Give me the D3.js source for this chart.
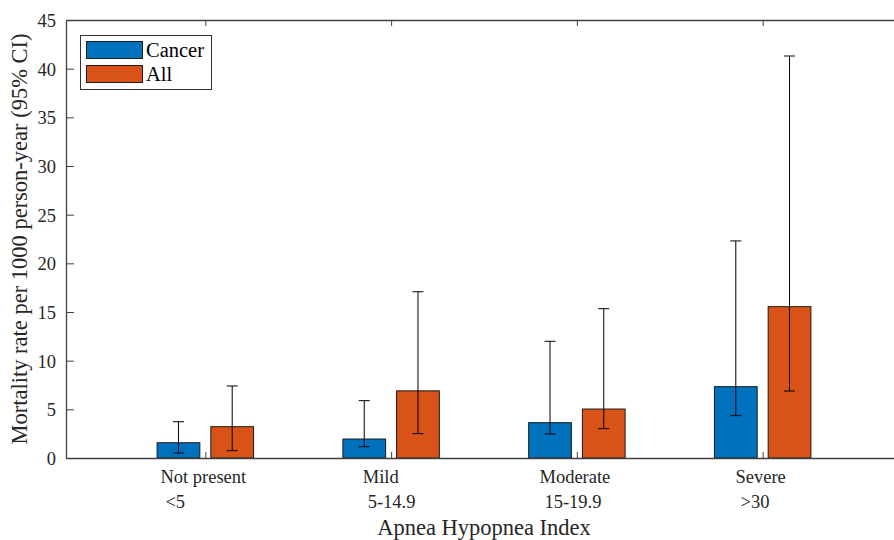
<!DOCTYPE html>
<html>
<head>
<meta charset="utf-8">
<script src="https://cdn.jsdelivr.net/npm/d3@7"></script>
<style>
    body { margin: 0; background: #fff; }
    svg { font-family: "Liberation Serif", "DejaVu Serif", serif; }
    .axis path, .axis line { stroke: #404040; }
    .axis text { fill: #262626; font-size: 18.5px; font-family: "Liberation Serif", serif; }
</style>
</head>
<body>
<script>
//chart data
var categories = ["Not present", "Mild", "Moderate", "Severe"];
var ranges = ["<5", "5-14.9", "15-19.9", ">30"];
var seriesNames = ["Cancer", "All"];
var cancerRate = [1.57, 1.95, 3.63, 7.33];
var cancerLow = [0.51, 1.16, 2.47, 4.35];
var cancerHigh = [3.73, 5.89, 11.99, 22.3];
var allRate = [3.22, 6.9, 5.03, 15.55];
var allLow = [0.75, 2.5, 3.01, 6.88];
var allHigh = [7.4, 17.08, 15.34, 41.3];
var yTicks = [0, 5, 10, 15, 20, 25, 30, 35, 40, 45];
var colors = ["#0072BD", "#D95319"];

(function(){
    var width = 894, height = 540;
    var left = 66, right = 902, top = 20, bottom = 458;

    var svg = d3.select("body").append("svg")
        .attr("width", width)
        .attr("height", height);

    //x in category units like matlab, xlim [0.25, 4.75]
    var x = d3.scaleLinear().domain([0.25, 4.75]).range([left, right]);
    var y = d3.scaleLinear().domain([0, 45]).range([bottom, top]);

    var barW = 0.23, offset = 0.1446;

    //build rows for each bar
    var rows = [];
    categories.forEach(function(c, i){
        rows.push({s: 0, i: i, v: cancerRate[i], lo: cancerLow[i], hi: cancerHigh[i]});
        rows.push({s: 1, i: i, v: allRate[i], lo: allLow[i], hi: allHigh[i]});
    });
    function cx(d){ return x(d.i + 1 + (d.s == 0 ? -offset : offset)); }

    //bars
    svg.selectAll(".bar")
        .data(rows)
        .enter()
        .append("rect")
        .attr("class", "bar")
        .attr("x", function(d){ return x(d.i + 1 + (d.s == 0 ? -offset : offset) - barW / 2); })
        .attr("width", x(barW) - x(0))
        .attr("y", function(d){ return y(d.v); })
        .attr("height", function(d){ return y(0) - y(d.v); })
        .style("fill", function(d){ return colors[d.s]; })
        .style("stroke", "#1a1a1a")
        .style("stroke-width", 1);

    //error bars
    var err = svg.selectAll(".err")
        .data(rows)
        .enter()
        .append("g")
        .attr("class", "err")
        .style("stroke", "#000")
        .style("stroke-width", 1);
    err.append("line")
        .attr("x1", cx).attr("x2", cx)
        .attr("y1", function(d){ return y(d.lo); })
        .attr("y2", function(d){ return y(d.hi); });
    err.append("line")
        .attr("x1", function(d){ return cx(d) - 5.5; })
        .attr("x2", function(d){ return cx(d) + 5.5; })
        .attr("y1", function(d){ return y(d.hi); })
        .attr("y2", function(d){ return y(d.hi); });
    err.append("line")
        .attr("x1", function(d){ return cx(d) - 5.5; })
        .attr("x2", function(d){ return cx(d) + 5.5; })
        .attr("y1", function(d){ return y(d.lo); })
        .attr("y2", function(d){ return y(d.lo); });

    //y axis, ticks inward
    svg.append("g")
        .attr("class", "axis")
        .attr("transform", "translate(" + left + ",0)")
        .call(d3.axisLeft(y).tickValues(yTicks).tickSizeInner(-8).tickSizeOuter(0).tickPadding(10))
        .attr("font-family", "Liberation Serif")
        .attr("font-size", 18.5)
        .selectAll("text").attr("dy", "0.35em");

    //x axis bottom and top
    var xTicks = [1, 2, 3, 4];
    svg.append("g")
        .attr("class", "axis")
        .attr("transform", "translate(0," + bottom + ")")
        .call(d3.axisBottom(x).tickValues(xTicks).tickSizeInner(-6).tickSizeOuter(0).tickFormat(""));
    svg.append("g")
        .attr("class", "axis")
        .attr("transform", "translate(0," + top + ")")
        .call(d3.axisTop(x).tickValues(xTicks).tickSizeInner(-6).tickSizeOuter(0).tickFormat(""));
    svg.selectAll(".axis path").style("stroke-width", 1.3);

    //two-line category labels, block centered on tick, lines left aligned
    var labels = svg.selectAll(".xlab")
        .data(categories)
        .enter()
        .append("g")
        .attr("class", "xlab")
        .style("font-size", "18.5px")
        .style("fill", "#262626");
    labels.each(function(c, i){
        var g = d3.select(this);
        var t1 = g.append("text").attr("y", 483).text(c);
        var t2 = g.append("text").attr("y", 508).text(ranges[i]);
        var w = Math.max(t1.node().getComputedTextLength(), t2.node().getComputedTextLength() + 5);
        var x0 = x(i + 1) - w / 2 - 2;
        t1.attr("x", x0);
        t2.attr("x", x0 + 5);
    });

    //axis titles
    svg.append("text")
        .attr("x", 484)
        .attr("y", 535)
        .attr("text-anchor", "middle")
        .style("font-size", "22.5px")
        .style("fill", "#262626")
        .text("Apnea Hypopnea Index");
    svg.append("text")
        .attr("transform", "translate(27," + ((top + bottom) / 2) + ") rotate(-90)")
        .attr("text-anchor", "middle")
        .style("font-size", "22.5px")
        .style("fill", "#262626")
        .text("Mortality rate per 1000 person-year (95% CI)");

    //legend
    var legend = svg.append("g");
    legend.append("rect")
        .attr("x", 80.5).attr("y", 35.5)
        .attr("width", 131).attr("height", 54)
        .style("fill", "#fff")
        .style("stroke", "#333");
    seriesNames.forEach(function(n, i){
        legend.append("rect")
            .attr("x", 86.5).attr("y", 41.5 + i * 24)
            .attr("width", 56).attr("height", 17)
            .style("fill", colors[i])
            .style("stroke", "#1a1a1a");
        legend.append("text")
            .attr("x", 146).attr("y", 57 + i * 24)
            .style("font-size", "20.5px")
            .style("fill", "#000")
            .text(n);
    });
})();
</script>
</body>
</html>
